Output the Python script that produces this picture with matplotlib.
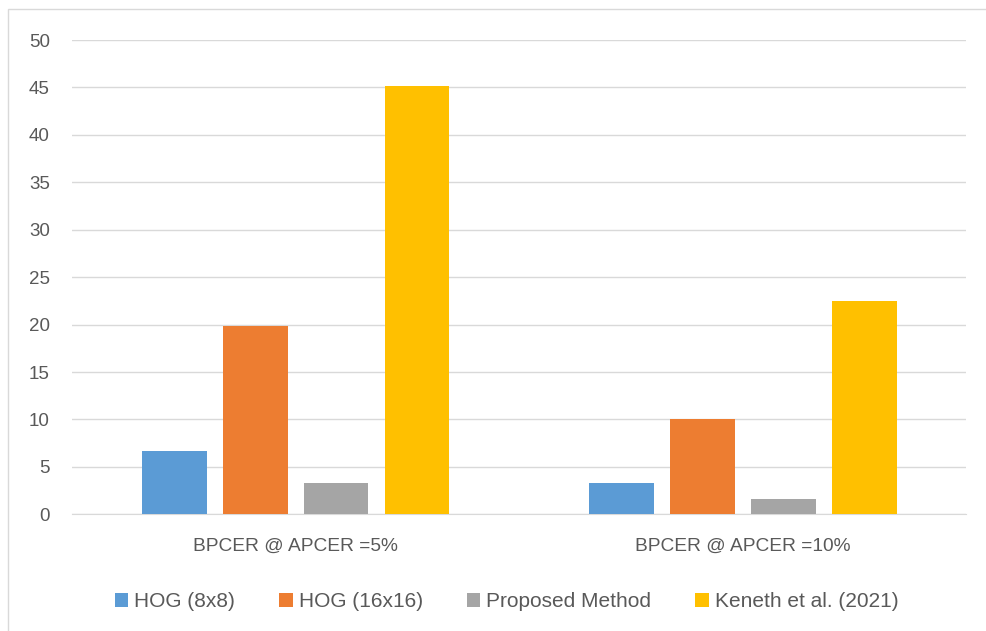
import numpy as np
import matplotlib.pyplot as plt
from matplotlib.patches import Rectangle

plt.rcParams['font.family'] = ['Liberation Sans', 'DejaVu Sans']

categories = ['BPCER @ APCER =5%', 'BPCER @ APCER =10%']
series_names = ['HOG (8x8)', 'HOG (16x16)', 'Proposed Method', 'Keneth et al. (2021)']
hog8 = [6.7, 3.3]
hog16 = [19.8, 10.0]
proposed = [3.3, 1.6]
keneth = [45.2, 22.5]
colors = ['#5b9bd5', '#ed7d31', '#a5a5a5', '#ffc000']

fig = plt.figure(figsize=(9.87, 6.31), dpi=100)
ax = fig.add_axes([0.073, 0.185, 0.906, 0.7515])

# light frame around the chart (only top/left fall inside the picture)
fig.patches.append(Rectangle((8 / 987, -0.02), 1.0, 1.02 - 9 / 631, transform=fig.transFigure,
                             fill=False, edgecolor='#d9d9d9', linewidth=1))

x = np.arange(len(categories))
width = 0.145
step = 0.181
all_series = [hog8, hog16, proposed, keneth]
for i, (vals, name, c) in enumerate(zip(all_series, series_names, colors)):
    ax.bar(x + (i - 1.5) * step, vals, width, color=c, label=name, zorder=3)

ax.set_xlim(-0.5, 1.5)
ax.set_ylim(0, 50)
ax.set_yticks(range(0, 51, 5))
ax.set_xticks(x)
ax.set_xticklabels(categories)
ax.yaxis.grid(True, color='#d9d9d9', linewidth=1, zorder=0)
for s in ['top', 'right', 'left']:
    ax.spines[s].set_visible(False)
ax.spines['bottom'].set_color('#d9d9d9')
ax.tick_params(axis='both', length=0, labelcolor='#595959')
ax.tick_params(axis='y', pad=16, labelsize=13.5)
ax.tick_params(axis='x', pad=17, labelsize=13.8)

ax.legend(loc='upper center', bbox_to_anchor=(0.486, -0.125), ncol=4, frameon=False,
          fontsize=15, labelcolor='#595959', handlelength=0.65, handleheight=0.65,
          handletextpad=0.3, columnspacing=2.1)

fig.savefig('out.png', dpi=100)
